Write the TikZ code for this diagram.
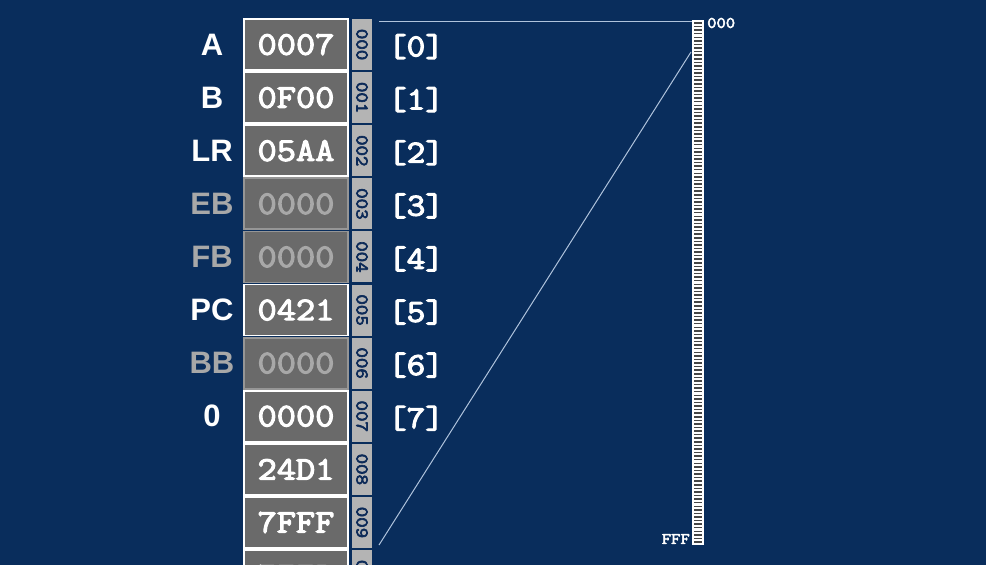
\documentclass[tikz,border=0pt]{standalone}
\usepackage{fontspec}
\setmainfont{Liberation Sans}
\newfontfamily\slabmono{Latin Modern Mono}[FakeBold=3.5, FakeStretch=1.13]
\definecolor{bg}{RGB}{9,45,92}
\definecolor{cellgrey}{RGB}{106,106,106}
\definecolor{addrgrey}{RGB}{180,180,180}
\definecolor{dimtext}{RGB}{168,168,168}
\definecolor{dimborder}{RGB}{150,150,150}
\definecolor{addrtext}{RGB}{12,42,88}
\definecolor{linecol}{RGB}{175,195,220}
\definecolor{bargrey}{RGB}{70,70,70}
\tikzset{
  cell/.style={draw, fill=cellgrey, line width=1.8pt, minimum width=104pt, minimum height=51pt, inner sep=0pt,
    font=\slabmono\fontsize{33}{33}\selectfont},
  addr/.style={fill=addrgrey, rotate=-90, minimum width=51pt, minimum height=20pt, inner sep=0pt,
    text=addrtext, font=\slabmono\fontsize{18}{18}\selectfont},
  reglab/.style={font=\rmfamily\bfseries\fontsize{31}{31}\selectfont, inner sep=0pt},
  idx/.style={text=white, font=\slabmono\fontsize{32}{32}\selectfont, inner sep=0pt},
  small/.style={text=white, font=\slabmono\fontsize{16}{16}\selectfont, inner sep=0pt},
  conn/.style={draw=linecol, line width=1pt}
}
\begin{document}
\begin{tikzpicture}[x=1pt,y=-1pt]
\fill[bg] (0,0) rectangle (986,565);
\useasboundingbox (0,0) rectangle (986,565);
\clip (0,0) rectangle (986,565);
\foreach \i/\lab/\val/\tc/\bc in {0/A/0007/white/white, 1/B/0F00/white/white, 2/LR/05AA/white/white,
   3/EB/0000/dimtext/dimborder, 4/FB/0000/dimtext/dimborder, 5/PC/0421/white/white,
   6/BB/0000/dimtext/dimborder, 7/0/0000/white/white}{
  \pgfmathsetmacro\yc{18+53.1*\i+26.55}
  \node[cell, draw=\bc, text=\tc] (m\i) at (296,\yc) {\val};
  \node[addr] (a\i) at (362,\yc) {00\i};
  \node[reglab, text=\tc] (r\i) at (212,\yc) {\lab};
  \node[idx] (x\i) at (416,\yc+2) {[\i]};
}
\foreach \i/\val in {8/24D1, 9/7FFF}{
  \pgfmathsetmacro\yc{18+53.1*\i+26.55}
  \node[cell, text=white, draw=white] (m\i) at (296,\yc) {\val};
  \node[addr] (a\i) at (362,\yc) {00\i};
}
\pgfmathsetmacro\yc{18+53.1*10+26.55}
\node[cell, text=white, draw=white] (m10) at (296,\yc) {7FFB};
\node[addr] (a10) at (362,\yc) {00A};
% memory ladder
\node[fill=white, draw=white, line width=0.6pt, minimum width=11pt, minimum height=524pt, inner sep=0pt] (ladder) at (698,282.5) {};
\foreach \k in {0,...,145}{
  \fill[bargrey] (694.3,22.2+3.58*\k) rectangle +(7.4,1.5);
}
\node[small, anchor=west] (top) at (707,23) {000};
\node[small, anchor=east] (bot) at (690,539) {FFF};
\coordinate (ltop) at (379,21);
\coordinate (lbot) at (379,545);
\coordinate (lmid) at (691,52);
\draw[conn] (ltop) -- (ladder.north west |- ltop);
\draw[conn] (lbot) -- (lmid);
\end{tikzpicture}
\end{document}
